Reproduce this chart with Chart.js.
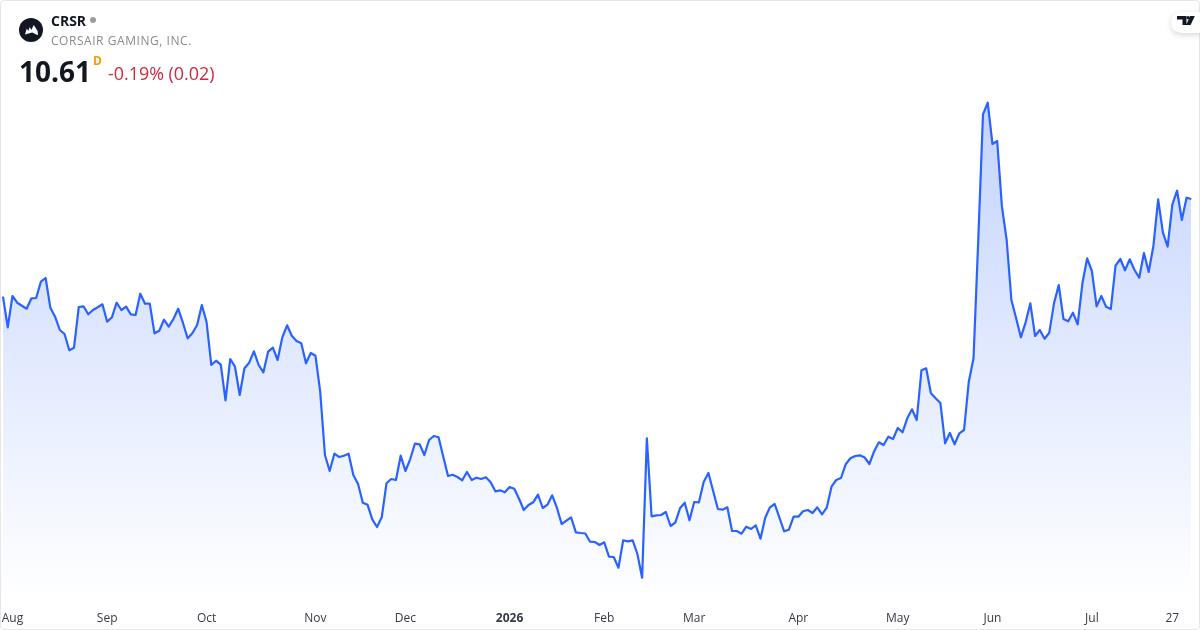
<!DOCTYPE html>
<html>
<head>
<meta charset="utf-8">
<script src="https://cdn.jsdelivr.net/npm/chart.js@4"></script>
<style>
html,body{margin:0;padding:0;background:#fff;width:1200px;height:630px;overflow:hidden;font-family:"Open Sans",sans-serif}
#wrap{position:relative;width:1200px;height:630px}
canvas{position:absolute;left:0;top:0}
#frame{position:absolute;left:0;top:0;width:1198px;height:628px;border:1px solid #e6e6e6;border-radius:4px;pointer-events:none}
.t{position:absolute;white-space:nowrap;line-height:1}
#sym{left:51px;top:14px;font-size:14px;font-weight:700;color:#131722}
#dot{position:absolute;left:90px;top:17px;width:6px;height:6px;border-radius:50%;background:#9c9c9c}
#name{left:51px;top:35px;font-size:12px;color:#8a8a8a;letter-spacing:.55px}
#price{left:19px;top:57px;font-size:28px;font-weight:700;color:#131722}
#type{left:93px;top:55px;font-size:12px;font-weight:700;color:#ff9800}
#chg{left:108px;top:65px;font-size:17.9px;color:#d0283f}
#logo{position:absolute;left:19px;top:18px}
#tv{position:absolute;left:1171px;top:12px;width:32px;height:21px;background:#fff;border-radius:11px 0 0 11px;box-shadow:0 2px 6px rgba(0,0,0,.16)}
#tv svg{position:absolute;left:6px;top:4px}
</style>
</head>
<body>
<div id="wrap">
<canvas id="c" width="1200" height="630"></canvas>
<div id="frame"></div>
<svg id="logo" width="24" height="24" viewBox="0 0 24 24"><circle cx="12" cy="12" r="12" fill="#131722"/><path d="M6 16.5 L7.8 10.5 L9.3 13 L10.8 9 L12.3 12 L14.8 7 L18.6 13 L19 17.2 L13.2 14.6 Z" fill="#fff"/></svg>
<div class="t" id="sym">CRSR</div><div id="dot"></div>
<div class="t" id="name">CORSAIR GAMING, INC.</div>
<div class="t" id="price">10.61</div>
<div class="t" id="type">D</div>
<div class="t" id="chg">-0.19% (0.02)</div>
<div id="tv"><svg width="18" height="13" viewBox="0 0 18 13"><path d="M0 0H9.5V9H5.5V3.5H0Z M13 0H17.8L13.6 9H9.2Z" fill="#131722"/><circle cx="11" cy="1.7" r="1.6" fill="#131722"/></svg></div>
</div>
<script>
const pointLabels = Array.from({length: 252}, (_, i) => i);
const tickIndex = [2, 22, 43, 66, 85, 107, 127, 146, 168, 189, 209, 230, 247];
const tickNames = ["Aug", "Sep", "Oct", "Nov", "Dec", "2026", "Feb", "Mar", "Apr", "May", "Jun", "Jul", "27"];
const closeAug = [9.633,9.327,9.64,9.573,9.543,9.513,9.617,9.62,9.783,9.82,9.523,9.433,9.30,9.26,9.097,9.123,9.53,9.537,9.457,9.50,9.527,9.557];
const closeSep = [9.383,9.427,9.573,9.50,9.533,9.457,9.45,9.663,9.563,9.563,9.267,9.293,9.403,9.333,9.41,9.513,9.373,9.217,9.267,9.35,9.55];
const closeOct = [9.38,8.95,8.993,8.953,8.597,9.01,8.933,8.65,8.917,8.973,9.087,8.95,8.877,9.083,9.123,9.00,9.227,9.347,9.243,9.19,9.167,8.967,9.07];
const closeNov = [9.043,8.683,8.05,7.89,8.063,8.03,8.043,8.063,7.85,7.76,7.573,7.553,7.407,7.33,7.427,7.767,7.81,7.80,8.043];
const closeDec = [7.89,8.007,8.163,8.157,8.05,8.20,8.24,8.227,8.033,7.84,7.853,7.83,7.797,7.88,7.80,7.823,7.81,7.827,7.777,7.687,7.697,7.677];
const closeJan = [7.73,7.713,7.613,7.50,7.55,7.577,7.653,7.52,7.553,7.647,7.523,7.36,7.393,7.427,7.277,7.27,7.265,7.183,7.18,7.15];
const closeFeb = [7.177,7.033,7.03,6.923,7.197,7.187,7.197,7.06,6.823,8.217,7.437,7.447,7.45,7.48,7.34,7.373,7.517,7.573,7.397];
const closeMar = [7.58,7.577,7.78,7.87,7.69,7.51,7.503,7.527,7.29,7.29,7.263,7.333,7.31,7.347,7.213,7.423,7.527,7.56,7.423,7.287,7.303,7.433];
const closeApr = [7.433,7.487,7.50,7.47,7.527,7.457,7.523,7.733,7.80,7.82,7.957,8.017,8.04,8.047,8.025,7.96,8.086,8.177,8.15,8.233,8.21];
const closeMay = [8.32,8.277,8.417,8.507,8.40,8.897,8.917,8.667,8.617,8.57,8.167,8.27,8.157,8.267,8.30,8.783,9.017,10.20,11.457,11.573];
const closeJun = [11.16,11.19,10.533,10.20,9.60,9.417,9.227,9.377,9.567,9.24,9.30,9.213,9.273,9.567,9.75,9.41,9.387,9.473,9.357,9.767,10.017];
const closeJul = [9.89,9.537,9.64,9.533,9.51,9.943,10.01,9.897,10.007,9.90,9.823,10.07,9.88,10.143,10.607,10.277,10.133,10.557,10.693,10.40,10.623,10.61];
const closes = [].concat(closeAug, closeSep, closeOct, closeNov, closeDec, closeJan, closeFeb, closeMar, closeApr, closeMay, closeJun, closeJul);

new Chart(document.getElementById('c'), {
  type: 'line',
  data: {
    labels: pointLabels,
    datasets: [{
      data: closes,
      borderColor: '#2962ff',
      borderWidth: 2.2,
      borderJoinStyle: 'round',
      tension: 0,
      pointRadius: 0,
      fill: 'start',
      backgroundColor: (ctx) => {
        const g = ctx.chart.ctx.createLinearGradient(0, 100, 0, 600);
        g.addColorStop(0, 'rgba(41,98,255,0.28)');
        g.addColorStop(1, 'rgba(41,98,255,0.0)');
        return g;
      }
    }]
  },
  options: {
    responsive: false,
    animation: false,
    layout: {padding: {left: 3, right: 8.7, top: 0, bottom: 0}},
    plugins: {legend: {display: false}, tooltip: {enabled: false}},
    scales: {
      y: {display: false, min: 6.6, max: 12.6},
      x: {
        offset: false,
        grid: {display: false, drawTicks: false},
        border: {display: false},
        afterFit: (s) => { s.height = 30; s.paddingLeft = 0; s.paddingRight = 0; },
        ticks: {
          autoSkip: false, maxRotation: 0, minRotation: 0, padding: 11,
          color: '#363a45',
          font: (ctx) => ({family: '"Open Sans"', size: 12, weight: ctx.tick && ctx.tick.label === '2026' ? '700' : '400'}),
          callback: (v, i) => { const k = tickIndex.indexOf(i); return k < 0 ? '' : tickNames[k]; }
        }
      }
    }
  }
});
</script>
</body>
</html>
